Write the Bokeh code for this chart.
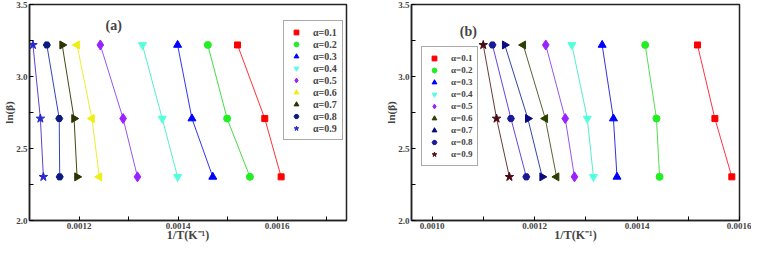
import math
from bokeh.plotting import figure
from bokeh.layouts import row
from bokeh.models import (FixedTicker, PrintfTickFormatter, Legend, LegendItem,
                          Label, Range1d)
from bokeh.embed import file_html
from bokeh.resources import INLINE

# ---------------- data ----------------
alpha_labels = ["α=0.1", "α=0.2", "α=0.3", "α=0.4", "α=0.5",
                "α=0.6", "α=0.7", "α=0.8", "α=0.9"]
ln_beta = [2.303, 2.708, 3.219]          # ln(10), ln(15), ln(25)

# panel (a): 1/T (K^-1) for each alpha at beta = 10, 15, 25
a_beta10 = [0.001608, 0.001545, 0.001470, 0.001399, 0.001318, 0.001241, 0.001196, 0.001161, 0.001128]
a_beta15 = [0.001575, 0.001499, 0.001428, 0.001368, 0.001289, 0.001226, 0.001190, 0.001160, 0.001122]
a_beta25 = [0.001520, 0.001460, 0.001399, 0.001328, 0.001243, 0.001196, 0.001166, 0.001135, 0.001107]

# panel (b)
b_beta10 = [0.001585, 0.001444, 0.001361, 0.001315, 0.001278, 0.001243, 0.001215, 0.001184, 0.001151]
b_beta15 = [0.001552, 0.001438, 0.001354, 0.001303, 0.001260, 0.001221, 0.001187, 0.001154, 0.001126]
b_beta25 = [0.001518, 0.001416, 0.001332, 0.001273, 0.001222, 0.001178, 0.001142, 0.001118, 0.001100]

x_ticks_a = [0.0012, 0.0014, 0.0016]
x_minor_a = [0.0011, 0.0013, 0.0015, 0.0017]
x_ticks_b = [0.0010, 0.0012, 0.0014, 0.0016]
x_minor_b = [0.0011, 0.0013, 0.0015]
y_ticks = [2.0, 2.5, 3.0, 3.5]
y_minor = [2.25, 2.75, 3.25]

# ---------------- styles ----------------
FONT = "Liberation Serif"
LEFT = math.pi / 2
RIGHT = -math.pi / 2
SIZES = {"square": 6, "circle": 7, "triangle": 8, "inverted_triangle": 8,
         "diamond": 10, "hex": 7, "star": 9}

style_a = [
    # marker, angle, marker colour, line colour
    ("square", 0, "#FF0000", "#FF3333"),
    ("circle", 0, "#22EE22", "#44DD44"),
    ("triangle", 0, "#0000FF", "#3333EE"),
    ("inverted_triangle", 0, "#55FFDD", "#55EECC"),
    ("diamond", 0, "#9922FF", "#9955EE"),
    ("triangle", LEFT, "#EEEE11", "#EEEE33"),
    ("triangle", RIGHT, "#2B3300", "#3D4A10"),
    ("hex", 0, "#0A1A80", "#3344BB"),
    ("star", 0, "#2A2ACC", "#6040CC"),
]
style_b = [
    ("square", 0, "#FF0000", "#FF3344"),
    ("circle", 0, "#22EE22", "#55DD55"),
    ("triangle", 0, "#0000FF", "#3333DD"),
    ("inverted_triangle", 0, "#55FFDD", "#55EECC"),
    ("diamond", 0, "#9922FF", "#9955EE"),
    ("triangle", LEFT, "#2B4000", "#556633"),
    ("triangle", RIGHT, "#0A0A80", "#3344AA"),
    ("hex", 0, "#1A1A99", "#6644DD"),
    ("star", 0, "#4A0A14", "#6A3A3A"),
]


def make_panel(b10, b15, b25, styles, xr, xt, xm, width, bl, br, tag, tagpos,
               legpos, legfont, legspacing):
    p = figure(width=width, height=244, output_backend="svg", toolbar_location=None,
               x_range=Range1d(*xr), y_range=Range1d(2.0, 3.5),
               min_border_left=bl, min_border_right=br, min_border_top=4,
               min_border_bottom=4)
    p.grid.visible = False
    p.outline_line_color = "#222222"
    p.outline_line_width = 1.5
    p.background_fill_color = "white"
    p.border_fill_color = "white"

    items = []
    for i in range(9):
        xs = [b10[i], b15[i], b25[i]]
        mk, ang, mc, lc = styles[i]
        p.line(xs, ln_beta, line_color=lc, line_width=1)
        r = p.scatter(xs, ln_beta, marker=mk, angle=ang, size=SIZES[mk],
                      fill_color=mc, line_color=mc)
        items.append(LegendItem(label=alpha_labels[i], renderers=[r]))

    leg = Legend(items=items, location=legpos, label_text_font=FONT,
                 label_text_font_style="bold", label_text_font_size=legfont,
                 label_height=legspacing, glyph_height=legspacing, glyph_width=14,
                 spacing=0, padding=5, margin=0, label_standoff=10,
                 border_line_color="#555555", border_line_width=1,
                 background_fill_alpha=1.0)
    p.add_layout(leg, "center")

    p.xaxis.ticker = FixedTicker(ticks=xt, minor_ticks=xm)
    p.yaxis.ticker = FixedTicker(ticks=y_ticks, minor_ticks=y_minor)
    p.xaxis.formatter = PrintfTickFormatter(format="%.4f")
    p.yaxis.formatter = PrintfTickFormatter(format="%.1f")
    for ax in (p.xaxis[0], p.yaxis[0]):
        ax.axis_line_color = "#222222"
        ax.axis_line_width = 1.5
        ax.major_tick_in = 4
        ax.major_tick_out = 0
        ax.minor_tick_in = 4
        ax.minor_tick_out = 0
        ax.major_label_text_font = FONT
        ax.major_label_text_font_style = "bold"
        ax.major_label_text_font_size = "9px"
        ax.major_label_standoff = 2
        ax.axis_label_text_font = FONT
        ax.axis_label_text_font_style = "bold"
        ax.axis_label_text_font_size = "11px"
    p.xaxis.axis_label_text_font_size = "12px"
    p.xaxis.axis_label_standoff = -4
    p.yaxis.axis_label_standoff = -2
    p.xaxis.axis_label = "1/T(K⁻¹)"
    p.yaxis.axis_label = "ln(β)"

    p.add_layout(Label(x=tagpos[0], y=tagpos[1], text=tag, text_font=FONT,
                       text_font_style="bold", text_font_size="14px",
                       text_align="center", text_baseline="middle"))
    return p


pa = make_panel(a_beta10, a_beta15, a_beta25, style_a, (0.0011, 0.00174),
                x_ticks_a, x_minor_a, 375, 18, 29, "(a)", (0.00127, 3.355),
                (254, 80), "10px", 12, )
pb = make_panel(b_beta10, b_beta15, b_beta25, style_b, (0.00096, 0.0016),
                x_ticks_b, x_minor_b, 376, 36, 12, "(b)", (0.001071, 3.313),
                (10, 54), "9px", 12)

layout = row(pa, pb)
open("out.html", "w").write(file_html(layout, INLINE))
